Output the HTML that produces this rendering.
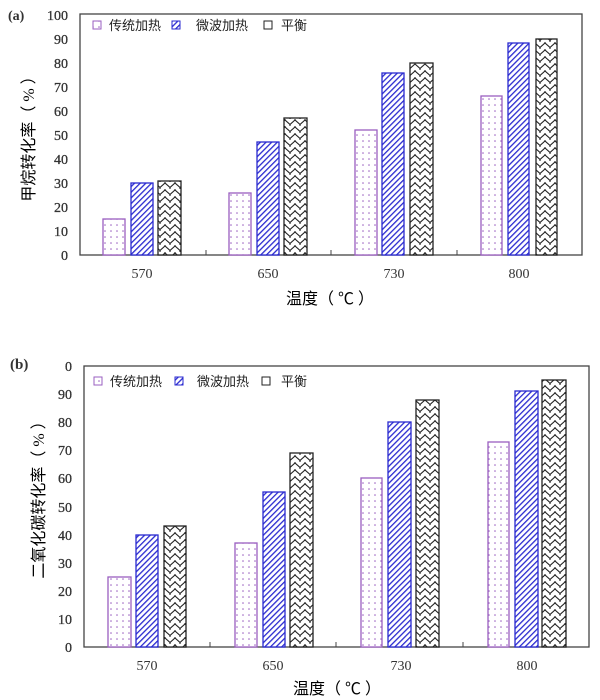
<!DOCTYPE html><html><head><meta charset="utf-8"><style>body{margin:0;background:#fff}svg{display:block}text{font-family:"Liberation Serif","Noto Sans CJK SC",serif}</style></head><body>
<svg width="600" height="700" viewBox="0 0 600 700" xmlns="http://www.w3.org/2000/svg">
<defs>
<pattern id="dot" width="6" height="6" patternUnits="userSpaceOnUse"><rect width="6" height="6" fill="#fff"/><circle cx="3" cy="3" r="0.8" fill="#9a5fc0"/></pattern>
<pattern id="hat" width="4" height="4" patternUnits="userSpaceOnUse" patternTransform="rotate(45)"><rect width="4" height="4" fill="#fff"/><rect width="1.3" height="4" fill="#2a2ad0"/></pattern>
<pattern id="zz" width="10" height="7" patternUnits="userSpaceOnUse"><rect width="10" height="7" fill="#fff"/><path d="M0 5.5 L5 1 L10 5.5 M5 1 L5 -1 M0 5.5 L0 8 M10 5.5 L10 8" stroke="#222" stroke-width="1.1" fill="none"/></pattern>
</defs>
<g fill="#333" font-size="13">
<text x="8" y="20" font-weight="bold" font-family="Liberation Sans" font-size="14">(a)</text>
<text x="10" y="369" font-weight="bold" font-size="15">(b)</text>
</g>
<rect x="80" y="14" width="502" height="241" fill="#fff" stroke="#444" stroke-width="1.3"/>
<g font-size="14" fill="#333" text-anchor="end" stroke="#333" stroke-width="0.3">
<text x="68" y="260">0</text><text x="68" y="236">10</text><text x="68" y="212">20</text><text x="68" y="188">30</text><text x="68" y="164">40</text><text x="68" y="140">50</text><text x="68" y="116">60</text><text x="68" y="92">70</text><text x="68" y="68">80</text><text x="68" y="44">90</text><text x="68" y="20">100</text>
</g>
<g stroke="#444"><line x1="206" y1="255" x2="206" y2="250"/><line x1="331" y1="255" x2="331" y2="250"/><line x1="457" y1="255" x2="457" y2="250"/></g>
<g font-size="14" fill="#333" text-anchor="middle"><text x="142" y="278">570</text><text x="268" y="278">650</text><text x="394" y="278">730</text><text x="519" y="278">800</text></g>
<text x="330" y="304" font-size="16" text-anchor="middle" font-family="Liberation Sans,Noto Sans CJK SC,sans-serif">温度（ ℃ ）</text>
<text transform="translate(34,135) rotate(-90)" font-size="16" text-anchor="middle" font-family="Liberation Sans,Noto Sans CJK SC,sans-serif">甲烷转化率（ % ）</text>
<g font-size="13" font-family="Liberation Sans,Noto Sans CJK SC,sans-serif" fill="#222">
<rect x="93" y="21" width="8" height="8" fill="url(#dot)" stroke="#9a5fc0"/><text x="109" y="30">传统加热</text>
<rect x="172" y="21" width="8" height="8" fill="url(#hat)" stroke="#2a2ad0"/><text x="196" y="30">微波加热</text>
<rect x="264" y="21" width="8" height="8" fill="#fff" stroke="#222"/><text x="281" y="30">平衡</text>
</g>
<g stroke-width="1.3">
<rect x="103" y="219" width="22" height="36" fill="url(#dot)" stroke="#9a5fc0"/>
<rect x="131" y="183" width="22" height="72" fill="url(#hat)" stroke="#2a2ad0"/>
<rect x="158" y="181" width="23" height="74" fill="url(#zz)" stroke="#222"/>
<rect x="229" y="193" width="22" height="62" fill="url(#dot)" stroke="#9a5fc0"/>
<rect x="257" y="142" width="22" height="113" fill="url(#hat)" stroke="#2a2ad0"/>
<rect x="284" y="118" width="23" height="137" fill="url(#zz)" stroke="#222"/>
<rect x="355" y="130" width="22" height="125" fill="url(#dot)" stroke="#9a5fc0"/>
<rect x="382" y="73" width="22" height="182" fill="url(#hat)" stroke="#2a2ad0"/>
<rect x="410" y="63" width="23" height="192" fill="url(#zz)" stroke="#222"/>
<rect x="481" y="96" width="21" height="159" fill="url(#dot)" stroke="#9a5fc0"/>
<rect x="508" y="43" width="21" height="212" fill="url(#hat)" stroke="#2a2ad0"/>
<rect x="536" y="39" width="21" height="216" fill="url(#zz)" stroke="#222"/>
</g>
<rect x="84" y="366" width="505" height="281" fill="#fff" stroke="#444" stroke-width="1.3"/>
<g font-size="14" fill="#333" text-anchor="end" stroke="#333" stroke-width="0.3">
<text x="72" y="652">0</text><text x="72" y="624">10</text><text x="72" y="596">20</text><text x="72" y="568">30</text><text x="72" y="540">40</text><text x="72" y="512">50</text><text x="72" y="483">60</text><text x="72" y="455">70</text><text x="72" y="427">80</text><text x="72" y="399">90</text><text x="72" y="371">0</text>
</g>
<g stroke="#444"><line x1="210" y1="647" x2="210" y2="642"/><line x1="336" y1="647" x2="336" y2="642"/><line x1="463" y1="647" x2="463" y2="642"/></g>
<g font-size="14" fill="#333" text-anchor="middle"><text x="147" y="670">570</text><text x="273" y="670">650</text><text x="401" y="670">730</text><text x="527" y="670">800</text></g>
<text x="337" y="694" font-size="16" text-anchor="middle" font-family="Liberation Sans,Noto Sans CJK SC,sans-serif">温度（ ℃ ）</text>
<text transform="translate(44,496) rotate(-90)" font-size="16" text-anchor="middle" font-family="Liberation Sans,Noto Sans CJK SC,sans-serif">二氧化碳转化率（ % ）</text>
<g font-size="13" font-family="Liberation Sans,Noto Sans CJK SC,sans-serif" fill="#222">
<rect x="94" y="377" width="8" height="8" fill="url(#dot)" stroke="#9a5fc0"/><text x="110" y="386">传统加热</text>
<rect x="175" y="377" width="8" height="8" fill="url(#hat)" stroke="#2a2ad0"/><text x="197" y="386">微波加热</text>
<rect x="262" y="377" width="8" height="8" fill="#fff" stroke="#222"/><text x="281" y="386">平衡</text>
</g>
<g stroke-width="1.3">
<rect x="108" y="577" width="23" height="70" fill="url(#dot)" stroke="#9a5fc0"/>
<rect x="136" y="535" width="22" height="112" fill="url(#hat)" stroke="#2a2ad0"/>
<rect x="164" y="526" width="22" height="121" fill="url(#zz)" stroke="#222"/>
<rect x="235" y="543" width="22" height="104" fill="url(#dot)" stroke="#9a5fc0"/>
<rect x="263" y="492" width="22" height="155" fill="url(#hat)" stroke="#2a2ad0"/>
<rect x="290" y="453" width="23" height="194" fill="url(#zz)" stroke="#222"/>
<rect x="361" y="478" width="21" height="169" fill="url(#dot)" stroke="#9a5fc0"/>
<rect x="388" y="422" width="23" height="225" fill="url(#hat)" stroke="#2a2ad0"/>
<rect x="416" y="400" width="23" height="247" fill="url(#zz)" stroke="#222"/>
<rect x="488" y="442" width="21" height="205" fill="url(#dot)" stroke="#9a5fc0"/>
<rect x="515" y="391" width="23" height="256" fill="url(#hat)" stroke="#2a2ad0"/>
<rect x="542" y="380" width="24" height="267" fill="url(#zz)" stroke="#222"/>
</g>
</svg>
</body></html>
